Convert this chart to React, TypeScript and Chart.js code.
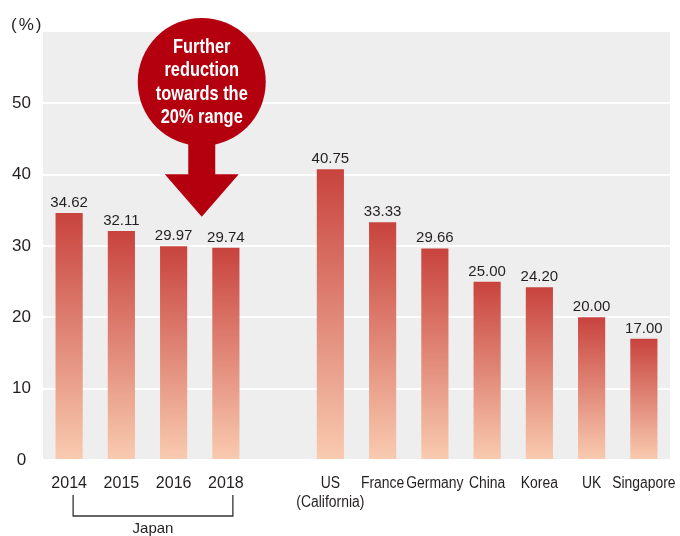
import React, { useEffect, useRef } from 'react';
import { Chart, registerables } from 'chart.js';

Chart.register(...registerables);

// ---- data ----
const categories: (string | string[])[] = [
  '2014', '2015', '2016', '2018', '',
  ['US', '(California)'], 'France', 'Germany', 'China', 'Korea', 'UK', 'Singapore',
];
const taxRates: (number | null)[] = [
  34.62, 32.11, 29.97, 29.74, null,
  40.75, 33.33, 29.66, 25.0, 24.2, 20.0, 17.0,
];
const yTickValues: number[] = [0, 10, 20, 30, 40, 50];
const yMax = 60;
const calloutLines: string[] = ['Further', 'reduction', 'towards the', '20% range'];
const bracketLabel = 'Japan';
const bracketFrom = 0;
const bracketTo = 3;
const unitLabel = '(%)';

const FONT = "'Liberation Sans', Arial, sans-serif";
const TEXT = '#231f20';
const BAR_TOP = '#c8433e';
const BAR_BOTTOM = '#f9cbb0';
const CALLOUT = '#b4000e';

const decorPlugin = {
  id: 'decor',
  beforeDraw(chart: any) {
    const { ctx, chartArea: a } = chart;
    ctx.save();
    ctx.fillStyle = '#eeeeee';
    ctx.fillRect(a.left, a.top, a.right - a.left, a.bottom - a.top);
    ctx.restore();
  },
  afterDatasetsDraw(chart: any) {
    const { ctx } = chart;
    const meta = chart.getDatasetMeta(0);
    ctx.save();
    ctx.font = `15px ${FONT}`;
    ctx.fillStyle = TEXT;
    ctx.textAlign = 'center';
    ctx.textBaseline = 'alphabetic';
    meta.data.forEach((bar: any, i: number) => {
      const v = taxRates[i];
      if (v == null) return;
      ctx.fillText(v.toFixed(2), bar.x, bar.y - 6);
    });
    ctx.restore();
  },
  afterDraw(chart: any) {
    const { ctx, chartArea: a } = chart;
    const xs = chart.scales.x;
    const ys = chart.scales.y;

    // unit label
    ctx.save();
    ctx.font = `17px ${FONT}`;
    ctx.fillStyle = TEXT;
    ctx.textAlign = 'left';
    ctx.textBaseline = 'alphabetic';
    try { (ctx as any).letterSpacing = '2px'; } catch (e) { /* ignore */ }
    ctx.fillText(unitLabel, 11, 30);
    ctx.restore();

    // category labels (narrow humanist look: condense alphabetic labels)
    ctx.save();
    ctx.font = `16px ${FONT}`;
    ctx.fillStyle = TEXT;
    ctx.textAlign = 'center';
    ctx.textBaseline = 'alphabetic';
    categories.forEach((label, i) => {
      const lines = Array.isArray(label) ? label : [label];
      const px = xs.getPixelForValue(i);
      lines.forEach((line, j) => {
        if (!line) return;
        const numeric = /^\d+$/.test(line);
        const k = numeric ? 1 : 0.87;
        ctx.save();
        ctx.translate(px, a.bottom + 28 + j * 18.5);
        ctx.scale(k, 1);
        ctx.fillText(line, 0, 0);
        ctx.restore();
      });
    });
    ctx.restore();

    // callout circle + arrow
    const cx = (xs.getPixelForValue(2) + xs.getPixelForValue(3)) / 2 + 2;
    const cy = ys.getPixelForValue(53);
    const r = 64;
    const shaftHalf = 13.5;
    const headHalf = 37;
    const headTop = ys.getPixelForValue(40.05);
    const tip = ys.getPixelForValue(34.1);
    ctx.save();
    ctx.fillStyle = CALLOUT;
    ctx.beginPath();
    ctx.arc(cx, cy, r, 0, Math.PI * 2);
    ctx.fill();
    ctx.beginPath();
    ctx.moveTo(cx - shaftHalf, cy + r - 12);
    ctx.lineTo(cx + shaftHalf, cy + r - 12);
    ctx.lineTo(cx + shaftHalf, headTop);
    ctx.lineTo(cx + headHalf, headTop);
    ctx.lineTo(cx, tip);
    ctx.lineTo(cx - headHalf, headTop);
    ctx.lineTo(cx - shaftHalf, headTop);
    ctx.closePath();
    ctx.fill();

    ctx.font = `bold 21px ${FONT}`;
    ctx.fillStyle = '#ffffff';
    ctx.textAlign = 'center';
    ctx.textBaseline = 'alphabetic';
    const w = ctx.measureText('towards the').width;
    const sx = Math.min(1, 92 / w);
    calloutLines.forEach((line, i) => {
      ctx.save();
      ctx.translate(cx, cy - 29 + i * 23.5);
      ctx.scale(sx, 1);
      ctx.fillText(line, 0, 0);
      ctx.restore();
    });
    ctx.restore();

    // Japan bracket
    const x0 = xs.getPixelForValue(bracketFrom) + 4;
    const x1 = xs.getPixelForValue(bracketTo) + 7;
    const yTop = a.bottom + 35;
    const yBot = a.bottom + 56;
    ctx.save();
    ctx.strokeStyle = '#333333';
    ctx.lineWidth = 1.3;
    ctx.beginPath();
    ctx.moveTo(x0, yTop);
    ctx.lineTo(x0, yBot);
    ctx.lineTo(x1, yBot);
    ctx.lineTo(x1, yTop);
    ctx.stroke();
    ctx.font = `15px ${FONT}`;
    ctx.fillStyle = TEXT;
    ctx.textAlign = 'center';
    ctx.textBaseline = 'alphabetic';
    ctx.fillText(bracketLabel, (x0 + x1) / 2, yBot + 17);
    ctx.restore();
  },
};

export default function App() {
  const canvasRef = useRef<HTMLCanvasElement | null>(null);

  useEffect(() => {
    const canvas = canvasRef.current;
    if (!canvas) return;
    const chart = new Chart(canvas, {
      type: 'bar',
      data: {
        labels: categories,
        datasets: [
          {
            data: taxRates,
            barPercentage: 0.52,
            categoryPercentage: 1,
            backgroundColor: (c: any) => {
              const ch = c.chart;
              if (!ch.chartArea || c.raw == null || !ch.scales.y) return BAR_TOP;
              const top = ch.scales.y.getPixelForValue(c.raw);
              const base = ch.scales.y.getPixelForValue(0);
              const g = ch.ctx.createLinearGradient(0, top, 0, base);
              g.addColorStop(0, BAR_TOP);
              g.addColorStop(1, BAR_BOTTOM);
              return g;
            },
          } as any,
        ],
      },
      options: {
        responsive: true,
        maintainAspectRatio: false,
        animation: false,
        layout: { padding: { top: 32, right: 10, left: 0, bottom: 0 } },
        plugins: {
          legend: { display: false },
          tooltip: { enabled: false },
        },
        scales: {
          x: {
            offset: true,
            grid: { display: false, drawTicks: false },
            border: { display: false },
            ticks: { display: false, autoSkip: false, maxRotation: 0, minRotation: 0 },
            afterFit: (s: any) => {
              s.height = 76;
              s.paddingLeft = 0;
              s.paddingRight = 0;
            },
          },
          y: {
            min: 0,
            max: yMax,
            border: { display: false },
            grid: {
              color: (c: any) => (c.tick && c.tick.value === yMax ? 'rgba(0,0,0,0)' : '#ffffff'),
              lineWidth: 2,
              drawTicks: false,
            },
            ticks: {
              stepSize: 10,
              font: { size: 17, family: FONT },
              color: TEXT,
              padding: 12,
              crossAlign: 'center',
              callback: (v: any) => (yTickValues.includes(Number(v)) ? String(v) : ''),
            },
            afterFit: (s: any) => {
              s.width = 43;
              s.paddingTop = 0;
              s.paddingBottom = 0;
            },
          },
        },
      } as any,
      plugins: [decorPlugin],
    });
    return () => chart.destroy();
  }, []);

  return (
    <div style={{ position: 'fixed', left: 0, top: 0, width: 680, height: 536, background: '#ffffff' }}>
      <canvas ref={canvasRef} />
    </div>
  );
}
